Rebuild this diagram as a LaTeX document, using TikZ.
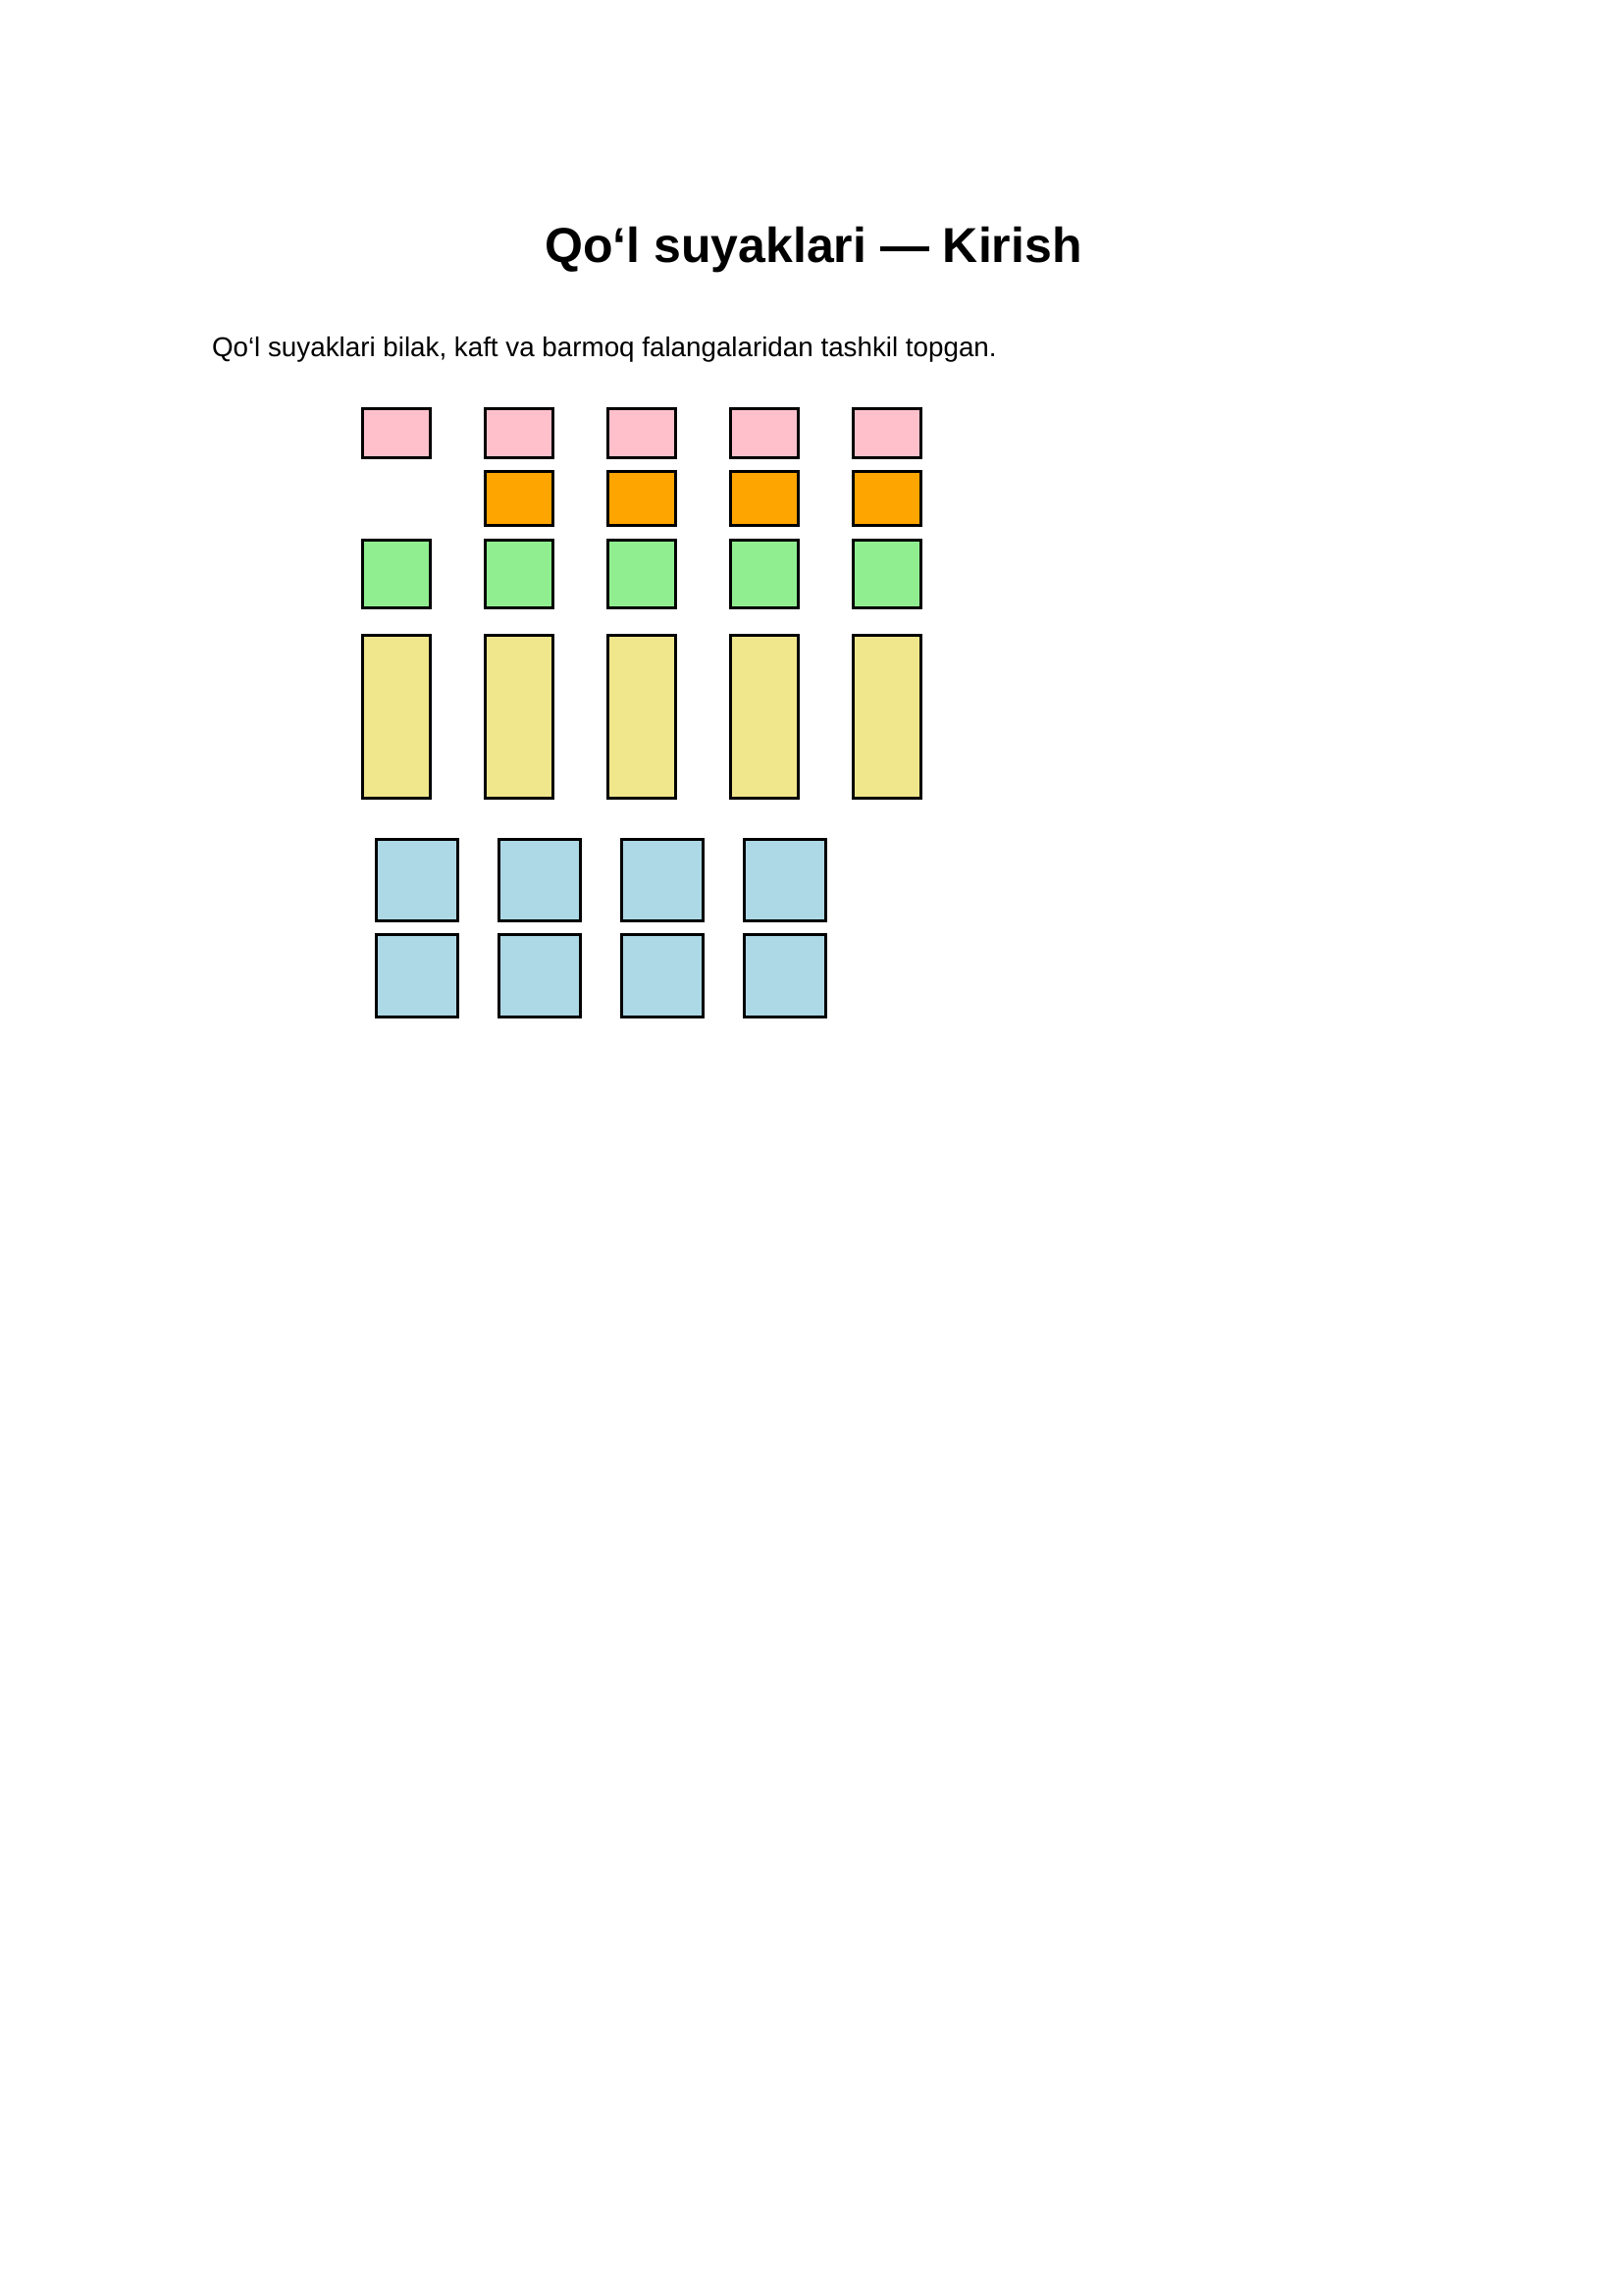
\documentclass[tikz,border=0pt]{standalone}
\usepackage{fontspec}
\setmainfont{Liberation Sans}
\definecolor{bpink}{RGB}{255,192,203}
\definecolor{borange}{RGB}{255,165,0}
\definecolor{bgreen}{RGB}{144,238,144}
\definecolor{bkhaki}{RGB}{240,230,140}
\definecolor{bblue}{RGB}{173,216,230}
\tikzset{
  bone/.style={draw=black, line width=1.08pt},
  txt/.style={inner sep=0pt, outer sep=0pt, text=black}
}
\begin{document}
\begin{tikzpicture}[x=0.36pt, y=-0.36pt]
\useasboundingbox[fill=white] (0,0) rectangle (1654,2339);
\node[txt, anchor=base, font=\bfseries\fontsize{18pt}{21pt}\selectfont] (title) at (829,267) {Qo‘l suyaklari — Kirish};
\node[txt, anchor=base west, font=\fontsize{10pt}{12pt}\selectfont] (intro) at (216,363) {Qo‘l suyaklari bilak, kaft va barmoq falangalaridan tashkil topgan.};
% distal phalanges (pink)
\foreach \i in {0,...,4}{
  \pgfmathsetmacro{\L}{369.5+125*\i}
  \pgfmathsetmacro{\R}{\L+69}
  \draw[bone, fill=bpink] (\L,416.5) rectangle (\R,466);
  \draw[bone, fill=bgreen] (\L,550) rectangle (\R,619.5);
  \draw[bone, fill=bkhaki] (\L,647.5) rectangle (\R,813.5);
}
% middle phalanges (orange)
\foreach \i in {1,...,4}{
  \pgfmathsetmacro{\L}{369.5+125*\i}
  \pgfmathsetmacro{\R}{\L+69}
  \draw[bone, fill=borange] (\L,480.5) rectangle (\R,535);
}
% carpal bones (blue)
\foreach \j in {0,...,3}{
  \pgfmathsetmacro{\L}{383.5+125*\j}
  \pgfmathsetmacro{\R}{\L+83}
  \draw[bone, fill=bblue] (\L,855.5) rectangle (\R,938.5);
  \draw[bone, fill=bblue] (\L,952.5) rectangle (\R,1036.5);
}
\end{tikzpicture}
\end{document}
